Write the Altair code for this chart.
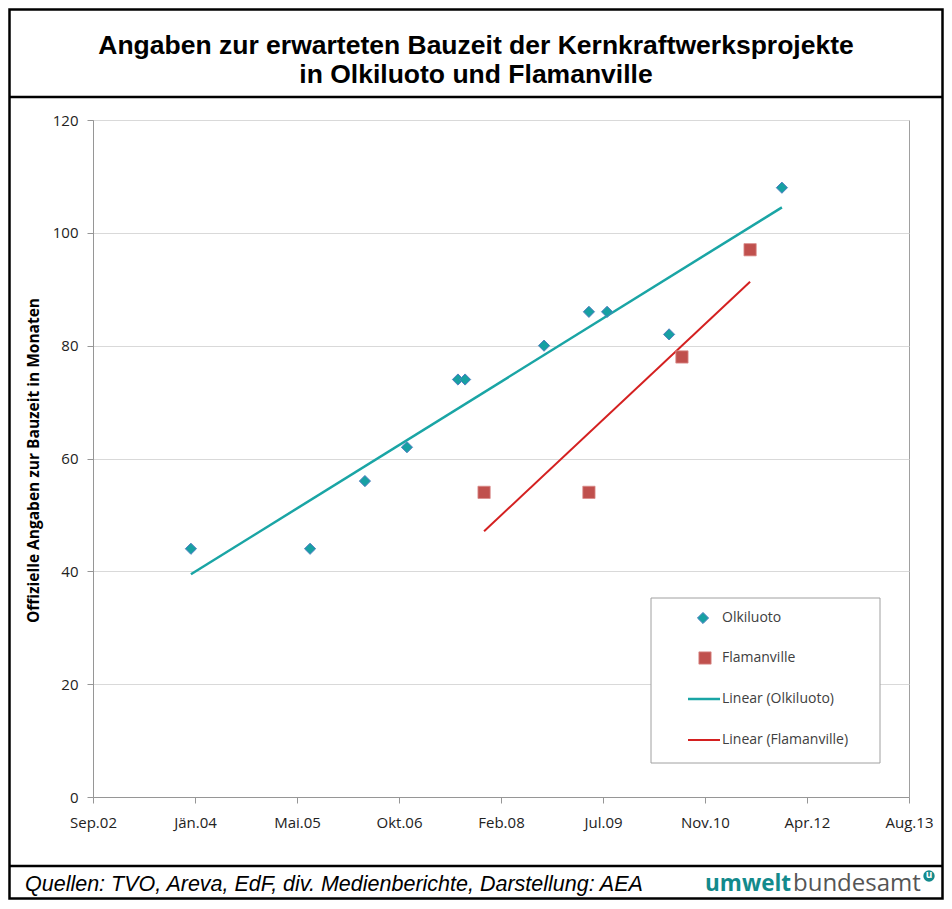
import altair as alt
import pandas as pd

# ---------------- data ----------------
title_lines = ["Angaben zur erwarteten Bauzeit der Kernkraftwerksprojekte",
               "in Olkiluoto und Flamanville"]
y_title = "Offizielle Angaben zur Bauzeit in Monaten"
source_text = "Quellen: TVO, Areva, EdF, div. Medienberichte, Darstellung: AEA"

olk_dates = ["2003-12-25", "2005-07-31", "2006-04-26", "2006-11-18", "2007-07-26",
             "2007-08-30", "2008-09-20", "2009-04-28", "2009-07-26", "2010-05-26",
             "2011-11-30"]
olk_months = [44, 44, 56, 62, 74, 74, 80, 86, 86, 82, 108]

fla_dates = ["2007-12-01", "2009-04-28", "2010-07-28", "2011-06-27"]
fla_months = [54, 54, 78, 97]

# Excel date serials of the axis ticks and their labels
x_tick_serials = [37500, 38000, 38500, 39000, 39500, 40000, 40500, 41000, 41500]
x_tick_labels = ["Sep.02", "Jän.04", "Mai.05", "Okt.06", "Feb.08",
                 "Jul.09", "Nov.10", "Apr.12", "Aug.13"]
y_ticks = [0, 20, 40, 60, 80, 100, 120]

legend_labels = ["Olkiluoto", "Flamanville", "Linear (Olkiluoto)", "Linear (Flamanville)"]

# ---------------- build tables ----------------
EPOCH = pd.Timestamp("1899-12-30")


def to_serial(dates):
    return [(pd.Timestamp(d) - EPOCH).days for d in dates]


df = pd.DataFrame({
    "serial": to_serial(olk_dates) + to_serial(fla_dates),
    "months": olk_months + fla_months,
    "series": ["Olkiluoto"] * len(olk_months) + ["Flamanville"] * len(fla_months),
})
one = pd.DataFrame({"k": [0]})

TEAL = "#17a0a3"
TEAL_LINE = "#1aa5a5"
RED_SQ = "#c0504d"
RED_LINE = "#d42020"
LOGO_TEAL = "#138a8c"
AXIS_FONT = "Open Sans"

label_expr = "[{}][indexof([{}], datum.value)]".format(
    ", ".join("'{}'".format(s) for s in x_tick_labels),
    ", ".join(str(v) for v in x_tick_serials))

x_enc = alt.X("serial:Q",
              scale=alt.Scale(domain=[x_tick_serials[0], x_tick_serials[-1]], nice=False, zero=False),
              axis=alt.Axis(values=x_tick_serials, labelExpr=label_expr, title=None, grid=False,
                            tickSize=6, labelPadding=12, labelFont=AXIS_FONT, labelFontSize=15,
                            labelColor="#222222", domainColor="#969696", tickColor="#969696",
                            labelFlush=False, labelOverlap=False))
y_enc = alt.Y("months:Q",
              scale=alt.Scale(domain=[0, 120], nice=False),
              axis=alt.Axis(values=y_ticks, title=y_title, grid=True, gridColor="#d9d9d9",
                            tickSize=6, labelPadding=9, labelFont=AXIS_FONT, labelFontSize=15,
                            labelColor="#222222", domainColor="#969696", tickColor="#969696",
                            titleFont=AXIS_FONT, titleFontSize=15.5, titleFontWeight="bold",
                            titleColor="#000000", titleAngle=270, titleAlign="center",
                            titleBaseline="middle", titleX=-60, titleY=340))

# ---------------- data layers ----------------
trend_olk = alt.Chart(df).transform_filter(alt.datum.series == "Olkiluoto").transform_regression(
    "serial", "months").mark_line(color=TEAL_LINE, strokeWidth=2.5).encode(x=x_enc, y=y_enc)
trend_fla = alt.Chart(df).transform_filter(alt.datum.series == "Flamanville").transform_regression(
    "serial", "months").mark_line(color=RED_LINE, strokeWidth=2).encode(x=x_enc, y=y_enc)

pts_olk = alt.Chart(df).transform_filter(alt.datum.series == "Olkiluoto").mark_point(
    shape="diamond", filled=True, size=125, fill=TEAL, stroke="#4f7fc0", strokeWidth=1,
    opacity=1).encode(x=x_enc, y=y_enc)
pts_fla = alt.Chart(df).transform_filter(alt.datum.series == "Flamanville").mark_point(
    shape="square", filled=True, size=150, fill=RED_SQ, stroke="#d98c8a", strokeWidth=0.8,
    opacity=1).encode(x=x_enc, y=y_enc)


# ---------------- decoration (plot-relative pixels) ----------------
def text_at(text, x, y, **kw):
    return alt.Chart(one).mark_text(text=text, **kw).encode(x=alt.value(x), y=alt.value(y))


FRAME_L, FRAME_R, FRAME_T, FRAME_B = -83.5, 849.5, -110.5, 778.5
frame = alt.Chart(one).mark_rect(filled=False, stroke="#000000", strokeWidth=2.5).encode(
    x=alt.value(FRAME_L), x2=alt.value(FRAME_R), y=alt.value(FRAME_T), y2=alt.value(FRAME_B))
title_rule = alt.Chart(one).mark_rule(color="#000000", strokeWidth=2.5).encode(
    x=alt.value(FRAME_L), x2=alt.value(FRAME_R), y=alt.value(-23))
footer_rule = alt.Chart(one).mark_rule(color="#000000", strokeWidth=2.5).encode(
    x=alt.value(FRAME_L), x2=alt.value(FRAME_R), y=alt.value(746))

title1 = text_at(title_lines[0], 383, -74, font="Liberation Sans", fontSize=26.5, fontWeight="bold",
                 align="center", baseline="middle", color="#000000")
title2 = text_at(title_lines[1], 383, -45, font="Liberation Sans", fontSize=26.5, fontWeight="bold",
                 align="center", baseline="middle", color="#000000")
footer = text_at(source_text, -68, 765, font="Liberation Sans", fontSize=21.5, fontStyle="italic",
                 align="left", baseline="middle", color="#000000")
logo1 = text_at("umwelt", 612, 771, font="Open Sans", fontSize=22.5, fontWeight="bold",
                align="left", baseline="alphabetic", color=LOGO_TEAL)
logo2 = text_at("bundesamt", 700, 771, font="Open Sans", fontSize=24,
                align="left", baseline="alphabetic", color="#555555")
logo_dot = alt.Chart(one).mark_point(shape="circle", filled=True, size=130, color=LOGO_TEAL,
                                     opacity=1).encode(x=alt.value(836), y=alt.value(756))
logo_u = text_at("u", 836, 755, font="Open Sans", fontSize=10, fontWeight="bold",
                 align="center", baseline="middle", color="#ffffff")

# legend
leg_box = alt.Chart(one).mark_rect(fill="#ffffff", stroke="#a0a0a0", strokeWidth=1).encode(
    x=alt.value(558), x2=alt.value(787), y=alt.value(478), y2=alt.value(643))
leg_d = alt.Chart(one).mark_point(shape="diamond", filled=True, size=125, fill=TEAL,
                                  stroke="#4f7fc0", strokeWidth=1, opacity=1).encode(
    x=alt.value(610), y=alt.value(498))
leg_s = alt.Chart(one).mark_point(shape="square", filled=True, size=150, fill=RED_SQ,
                                  stroke="#d98c8a", strokeWidth=0.8, opacity=1).encode(
    x=alt.value(612), y=alt.value(538))
leg_l1 = alt.Chart(one).mark_rule(color=TEAL_LINE, strokeWidth=2.5).encode(
    x=alt.value(595), x2=alt.value(627), y=alt.value(579))
leg_l2 = alt.Chart(one).mark_rule(color=RED_LINE, strokeWidth=2).encode(
    x=alt.value(595), x2=alt.value(627), y=alt.value(620))
leg_texts = [text_at(lab, 629, yy, font="Open Sans", fontSize=14, align="left",
                     baseline="middle", color="#404040")
             for lab, yy in zip(legend_labels, [498, 538, 579, 620])]

chart = alt.layer(
    leg_box, trend_olk, trend_fla, pts_olk, pts_fla,
    leg_d, leg_s, leg_l1, leg_l2, *leg_texts,
    frame, title_rule, footer_rule, title1, title2, footer,
    logo1, logo2, logo_dot, logo_u,
).properties(
    width=816, height=677,
    padding={"left": 85, "top": 112, "right": 35, "bottom": 103},
    autosize=alt.AutoSizeParams(type="none"),
    background="#ffffff",
).configure_view(stroke="#a0a0a0", strokeWidth=1)

chart.save("out.html", embed_options={"renderer": "svg", "actions": False})
